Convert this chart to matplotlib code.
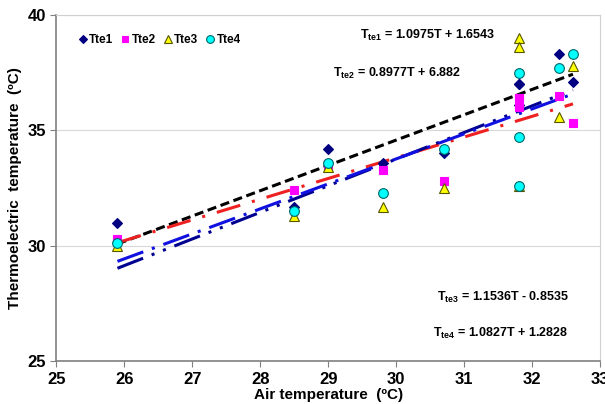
import matplotlib
matplotlib.use("Agg")
import matplotlib.pyplot as plt
import numpy as np

plt.rcParams['font.family'] = ['Liberation Sans', 'DejaVu Sans']
plt.rcParams['mathtext.default'] = 'regular'

# air temperature (x) for every reading
airT = [25.9, 28.5, 29.0, 29.8, 30.7, 31.8, 31.8, 31.8, 32.4, 32.6]

# thermoelectric temperatures
tte1 = [31.0, 31.7, 34.2, 33.6, 34.0, 37.0, 36.1, 37.0, 38.3, 37.1]
tte2 = [30.3, 32.4, 33.5, 33.3, 32.8, 36.4, 36.0, 36.4, 36.5, 35.3]
tte3 = [30.0, 31.3, 33.4, 31.7, 32.5, 39.0, 38.6, 32.6, 35.6, 37.8]
tte4 = [30.1, 31.5, 33.6, 32.3, 34.2, 37.5, 34.7, 32.6, 37.7, 38.3]

# trend line coefficients (slope, intercept) as printed on the chart
slopes = [1.0975, 0.8977, 1.1536, 1.0827]
intercepts = [1.6543, 6.882, -0.8535, 1.2828]
eqLabels = ['1.0975T + 1.6543', '0.8977T + 6.882', '1.1536T - 0.8535', '1.0827T + 1.2828']

names = ['Tte1', 'Tte2', 'Tte3', 'Tte4']
series = [tte1, tte2, tte3, tte4]
markers = ['D', 's', '^', 'o']
faceColors = ['#000080', '#FF00FF', '#FFFF00', '#00FFFF']
edgeColors = ['#000080', '#FF00FF', '#555500', '#006666']
sizes = [5, 6, 7, 7]
lineColors = ['black', '#EE2020', '#000090', '#1010E0']
lineStyles = [(0, (3, 1.5)), (0, (8, 4, 1, 4)), (0, (9, 3, 1, 3, 1, 3)), (0, (9, 3, 1, 3))]

fig = plt.figure(figsize=(6.05, 4.04), dpi=100)
ax = fig.add_axes([0.093, 0.106, 0.899, 0.857])

for i in range(len(series)):
  ax.plot(airT, series[i], ls='none', marker=markers[i], ms=sizes[i],
          mfc=faceColors[i], mec=edgeColors[i], mew=0.8, label=names[i], zorder=3)

# trend lines
xs = np.array([min(airT), max(airT)])
for i in range(len(slopes)):
  ax.plot(xs, slopes[i] * xs + intercepts[i], color=lineColors[i],
          ls=lineStyles[i], lw=2.2, zorder=2)

ax.set_xlim(25, 33)
ax.set_ylim(25, 40)
ax.set_xticks(range(25, 34))
ax.set_yticks([25, 30, 35, 40])
ax.grid(axis='y', color='#d8d8d8', lw=0.8)
ax.set_axisbelow(True)
for s in ['left', 'bottom']:
  ax.spines[s].set_color('#808080')
  ax.spines[s].set_linewidth(1.2)
for s in ['top', 'right']:
  ax.spines[s].set_color('#d0d0d0')
ax.tick_params(direction='out', length=4, color='#808080', labelsize=12)
for lbl in ax.get_xticklabels() + ax.get_yticklabels():
  lbl.set_fontweight('bold')

ax.set_xlabel('Air temperature  (\u00baC)', fontsize=11, fontweight='bold', labelpad=1)
ax.set_ylabel('Thermoelectric  temperature  (\u00baC)', fontsize=11, fontweight='bold', labelpad=4)

# equations
eqPos = [(0.559, 0.942), (0.509, 0.832), (0.70, 0.185), (0.692, 0.081)]
for i in range(len(eqLabels)):
  ax.text(eqPos[i][0], eqPos[i][1], 'T$_{te%d}$ = %s' % (i + 1, eqLabels[i]),
          transform=ax.transAxes, fontsize=9, fontweight='bold', va='center')

ax.legend(loc='upper left', bbox_to_anchor=(0.018, 0.975), ncol=4, frameon=False,
          handletextpad=0.05, columnspacing=0.5, handlelength=1, markerscale=0.8,
          prop={'weight': 'bold', 'size': 8.5})

fig.savefig('out.png', dpi=100)
